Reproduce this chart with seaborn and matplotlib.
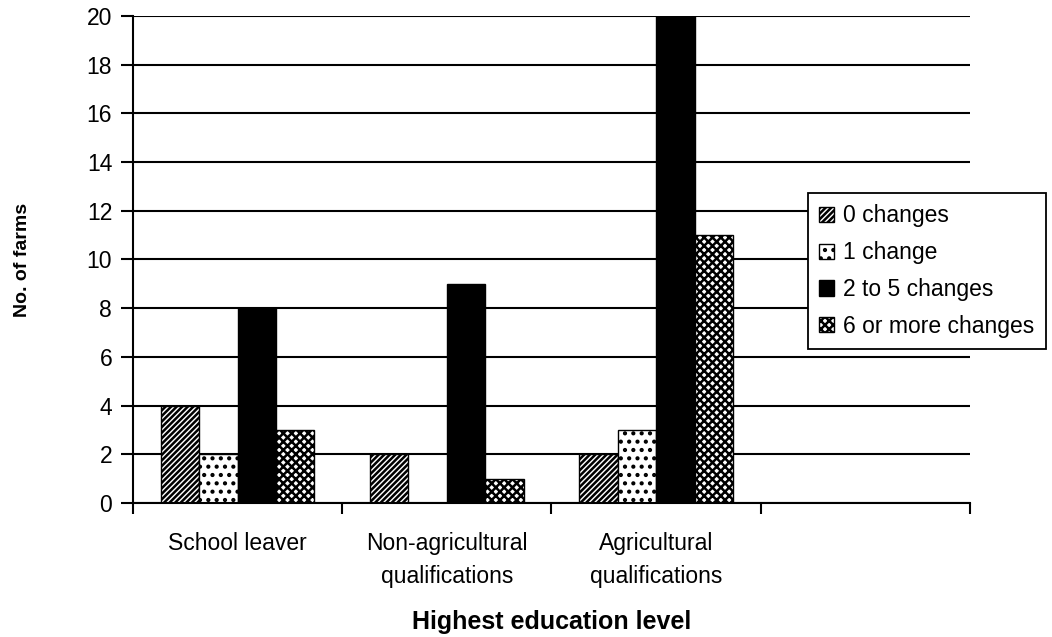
import pandas as pd
import seaborn as sns
import matplotlib.pyplot as plt
from matplotlib.patches import Patch

# Data
categories = ["School leaver", "Non-agricultural\nqualifications", "Agricultural\nqualifications"]
levels = ["0 changes", "1 change", "2 to 5 changes", "6 or more changes"]
zero_changes = [4, 2, 2]
one_change = [2, 0, 3]
two_to_five = [8, 9, 20]
six_or_more = [3, 1, 11]

rows = []
for lvl, vals in zip(levels, [zero_changes, one_change, two_to_five, six_or_more]):
    for cat, v in zip(categories, vals):
        rows.append({"Education": cat, "Changes": lvl, "Farms": v})
df = pd.DataFrame(rows)

sns.set_style("white")
plt.rcParams['font.family'] = ['Liberation Sans', 'DejaVu Sans']
plt.rcParams['text.color'] = 'black'
plt.rcParams['axes.labelcolor'] = 'black'
plt.rcParams['xtick.color'] = 'black'
plt.rcParams['ytick.color'] = 'black'
plt.rcParams['hatch.linewidth'] = 1.8

fig = plt.figure(figsize=(10.52, 6.37), dpi=100)
ax = fig.add_axes([0.1264, 0.2104, 0.7956, 0.7645])

order = categories + [" "]
sns.barplot(data=df, x="Education", y="Farms", hue="Changes", order=order,
            hue_order=levels, width=0.735, ax=ax, legend=False)

styles = [("white", "//////"), ("white", ".."), ("black", ""), ("white", "xxxx")]
for cont, (fc, h) in zip(ax.containers, styles):
    for bar in cont:
        bar.set_facecolor(fc)
        bar.set_edgecolor("black")
        bar.set_hatch(h)
        bar.set_linewidth(1.0)

ax.set_ylim(0, 20)
ax.set_xlim(-0.5, 3.5)
ax.set_yticks(range(0, 21, 2))
ax.yaxis.grid(True, color="black", linewidth=1.5)
ax.set_axisbelow(True)

ax.set_xticks(range(3))
ax.set_xticklabels(categories, fontsize=16.5, linespacing=1.55)
ax.set_xticks([-0.5, 0.5, 1.5, 2.5, 3.5], minor=True)
ax.tick_params(axis="x", which="major", bottom=False, length=0, pad=21)
ax.tick_params(axis="x", which="minor", bottom=True, length=8, width=1.5, direction="out")
ax.tick_params(axis="y", labelsize=16.5, length=9, width=1.5, direction="out", left=True, pad=6)

for side in ["top", "right"]:
    ax.spines[side].set_visible(False)
for side in ["left", "bottom"]:
    ax.spines[side].set_color("black")
    ax.spines[side].set_linewidth(1.5)

ax.set_xlabel("Highest education level", fontsize=18, fontweight="bold", labelpad=16)
ax.set_ylabel("No. of farms", fontsize=14, fontweight="bold", labelpad=40)

handles = [Patch(facecolor=fc, edgecolor="black", hatch=h, label=lvl)
           for (fc, h), lvl in zip(styles, levels)]
leg = ax.legend(handles=handles, loc="upper left", bbox_to_anchor=(0.768, 0.697),
                bbox_transform=fig.transFigure, fontsize=16.5, frameon=True, fancybox=False,
                handlelength=0.65, handleheight=0.65, handletextpad=0.4, borderpad=0.5,
                labelspacing=0.6, borderaxespad=0)
leg.get_frame().set_edgecolor("black")
leg.get_frame().set_linewidth(1.3)
leg.get_frame().set_alpha(1)

plt.savefig("out.png", dpi=100)
